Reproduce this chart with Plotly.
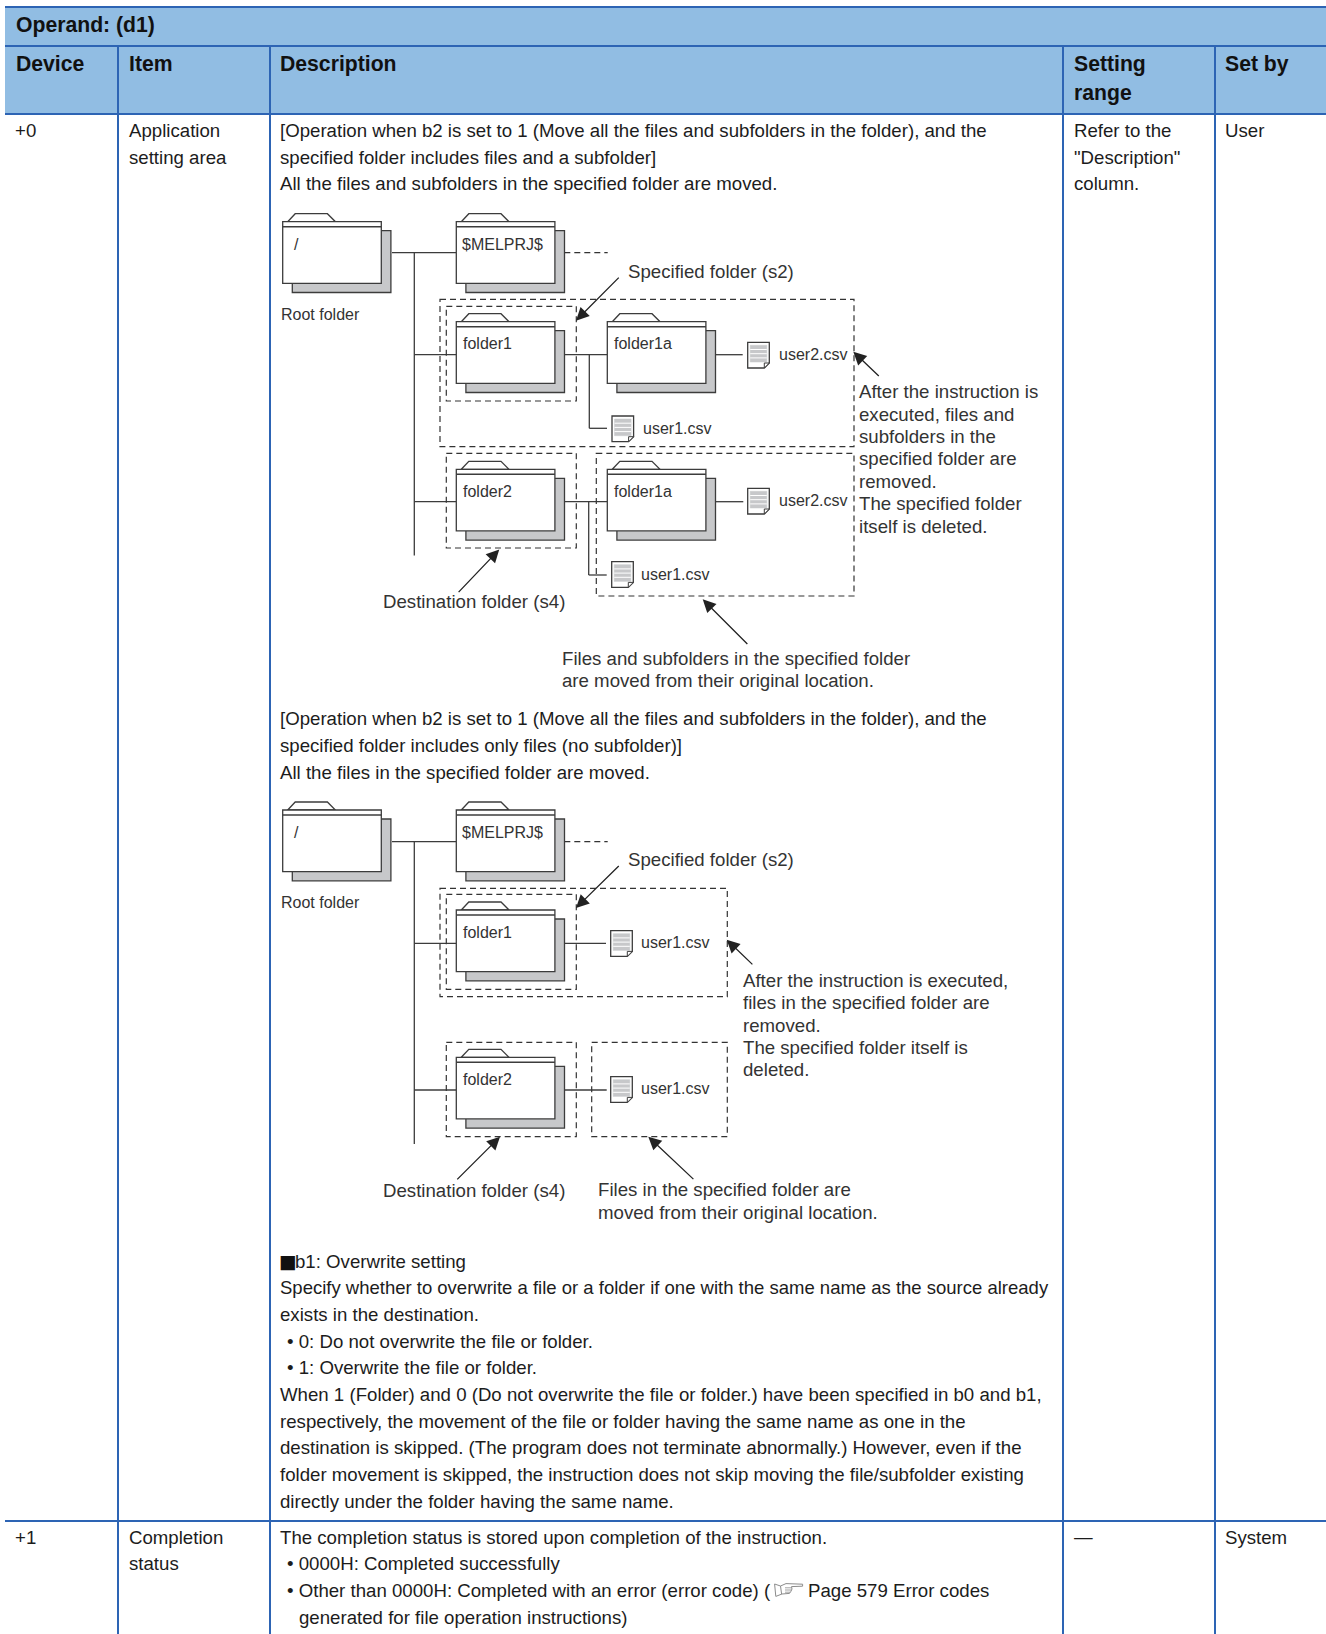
import plotly.graph_objects as go
import math

# ---------- text content ----------
TITLE = "Operand: (d1)"
HEADERS = ["Device", "Item", "Description", "Setting", "range", "Set by"]
ROW0_CELLS = ["+0", "Application", "setting area", "Refer to the", '"Description"', "column.", "User"]
ROW1_CELLS = ["+1", "Completion", "status", "—", "System"]
DESC_BLOCK_1 = [
    "[Operation when b2 is set to 1 (Move all the files and subfolders in the folder), and the",
    "specified folder includes files and a subfolder]",
    "All the files and subfolders in the specified folder are moved.",
]
DESC_BLOCK_2 = [
    "[Operation when b2 is set to 1 (Move all the files and subfolders in the folder), and the",
    "specified folder includes only files (no subfolder)]",
    "All the files in the specified folder are moved.",
]
SECTION_MARK = "■"
DESC_BLOCK_3 = [
    "b1: Overwrite setting",
    "Specify whether to overwrite a file or a folder if one with the same name as the source already",
    "exists in the destination.",
    "• 0: Do not overwrite the file or folder.",
    "• 1: Overwrite the file or folder.",
    "When 1 (Folder) and 0 (Do not overwrite the file or folder.) have been specified in b0 and b1,",
    "respectively, the movement of the file or folder having the same name as one in the",
    "destination is skipped. (The program does not terminate abnormally.) However, even if the",
    "folder movement is skipped, the instruction does not skip moving the file/subfolder existing",
    "directly under the folder having the same name.",
]
DESC_BLOCK_4 = [
    "The completion status is stored upon completion of the instruction.",
    "• 0000H: Completed successfully",
    "• Other than 0000H: Completed with an error (error code) (",
    "Page 579 Error codes",
    "generated for file operation instructions)",
]
NOTE_A = ["After the instruction is", "executed, files and", "subfolders in the",
          "specified folder are", "removed.", "The specified folder", "itself is deleted."]
NOTE_B = ["Files and subfolders in the specified folder", "are moved from their original location."]
NOTE_C = ["After the instruction is executed,", "files in the specified folder are",
          "removed.", "The specified folder itself is", "deleted."]
NOTE_D = ["Files in the specified folder are", "moved from their original location."]
SPECIFIED = "Specified folder (s2)"
DESTINATION = "Destination folder (s4)"
ROOT = "Root folder"

# ---------- styles ----------
HEAD_FILL = "#91bde3"
RULE = "#2d64b4"
INK = "#1c1c1c"
DIAG = "#333333"
GRAY = "#c7c8ca"
EDGE = "#3c3c3c"
FONT = "Liberation Sans"
BODY = 18.65
SMALL = 16
BOLD = 21.2

fig = go.Figure()
shapes, notes = [], []


def text(x, y, s, size=BODY, color=INK, bold=False, family=FONT):
    notes.append(dict(x=x, y=y, xref="x", yref="y", text=f"<b>{s}</b>" if bold else s,
                      showarrow=False, xanchor="left", yanchor="middle", align="left",
                      borderpad=0, borderwidth=0,
                      font=dict(family=family, size=size, color=color)))


def line(x0, y0, x1, y1, color=EDGE, width=1.3, dash=None):
    shapes.append(dict(type="line", x0=x0, y0=y0, x1=x1, y1=y1, xref="x", yref="y",
                       line=dict(color=color, width=width, dash=dash)))


def rect(x0, y0, x1, y1, fill=None, color=EDGE, width=1.3, dash=None):
    shapes.append(dict(type="rect", x0=x0, y0=y0, x1=x1, y1=y1, xref="x", yref="y",
                       fillcolor=fill if fill else "rgba(0,0,0,0)",
                       line=dict(color=color, width=width, dash=dash)))


def path(d, fill=None, color=EDGE, width=1.3):
    shapes.append(dict(type="path", path=d, xref="x", yref="y",
                       fillcolor=fill if fill else "rgba(0,0,0,0)",
                       line=dict(color=color, width=width)))


def dashed(x0, y0, x1, y1):
    rect(x0, y0, x1, y1, dash="6px,4px", color="#333333", width=1.2)


def folder(x, y):
    w, h = 98.6, 61.6
    rect(x + 9.6, y + 9, x + w + 9.6, y + h + 9.2, fill=GRAY)
    path(f"M{x+5},{y} L{x+12.5},{y-8} L{x+44.7},{y-8} L{x+52.7},{y} Z", fill="white")
    rect(x, y, x + w, y + h, fill="white")
    line(x, y + 5, x + w, y + 5, width=1.6)


def doc(x, y):
    w, h, c = 21.6, 25.7, 5
    path(f"M{x},{y} L{x+w},{y} L{x+w},{y+h-c} L{x+w-c},{y+h} L{x},{y+h} Z", fill="white")
    rect(x + 2.5, y + 3, x + w - 2.5, y + h - 6, fill=GRAY, color=GRAY, width=0.5)
    for k in (1, 2, 3):
        line(x + 2.5, y + 3 + k * 4.2, x + w - 2.5, y + 3 + k * 4.2, color="white", width=1)
    path(f"M{x+w},{y+h-c} L{x+w-c},{y+h-c} L{x+w-c},{y+h} Z", fill="white", width=1)


def arrow(x_from, y_from, x_tip, y_tip):
    d = math.hypot(x_from - x_tip, y_from - y_tip)
    k = (d + 2.2) / d
    notes.append(dict(x=x_tip, y=y_tip, ax=x_tip + (x_from - x_tip) * k,
                      ay=y_tip + (y_from - y_tip) * k, xref="x", yref="y",
                      axref="x", ayref="y", text="", showarrow=True, arrowhead=2,
                      arrowsize=2.0, arrowwidth=1.3, arrowcolor="#222222", standoff=0))


def hand():
    c = "#8c8c8c"
    path("M774.6,1584 L780.5,1586 L786,1583.6 L802.6,1584.2 L802.6,1586.2 L791.5,1586.6 "
         "L792,1589 L791,1591.2 L789.5,1593.4 L782,1594 L775.8,1596.4 Z", fill="white", color=c, width=1)
    line(780.5, 1586, 781.6, 1594, color=c, width=1)
    line(785, 1587.8, 791.6, 1587.8, color=c, width=0.8)
    line(785, 1590, 791.2, 1590, color=c, width=0.8)
    line(785, 1592.2, 790, 1592.2, color=c, width=0.8)


# ---------- table frame ----------
rect(5, 7, 1326, 114, fill=HEAD_FILL, color=HEAD_FILL, width=0)
for y in (7, 46, 114, 1521):
    line(5, y, 1326, y, color=RULE, width=2)
for x in (118, 270, 1063, 1215):
    line(x, 46, x, 1634, color=RULE, width=2)

# ---------- table text ----------
text(15.6, 25, TITLE, size=BOLD, bold=True, color="#111111")
for s, x, y in zip(HEADERS, (15.6, 129.3, 280, 1074.2, 1074.2, 1225),
                   (63.6, 63.6, 63.6, 63.6, 92.8, 63.6)):
    text(x, y, s, size=BOLD, bold=True, color="#111111")

for s, x, y in zip(ROW0_CELLS, (15.2, 129.3, 129.3, 1074, 1074, 1074, 1225),
                   (130.5, 130.5, 157.3, 130.5, 157.3, 183.5, 130.5)):
    text(x, y, s)
for s, x, y in zip(ROW1_CELLS, (15.2, 129.3, 129.3, 1074, 1225),
                   (1537.7, 1537.7, 1563.8, 1536, 1537.7)):
    text(x, y, s)

for s, y in zip(DESC_BLOCK_1, (130.5, 157.3, 183.5)):
    text(280, y, s)
for s, y in zip(DESC_BLOCK_2, (718.3, 745.4, 772.5)):
    text(280, y, s)
text(279.3, 1261.4, SECTION_MARK, family="DejaVu Sans", color="#111111")
for s, y, x, sz in zip(DESC_BLOCK_3,
                       (1261.4, 1287.6, 1314.7, 1341.8, 1367.2, 1394.2, 1421.2, 1447.6, 1474.2, 1501),
                       (295, 280, 280, 286.7, 286.7, 280, 280, 280, 280, 280),
                       (BODY, 18.5, BODY, BODY, BODY, BODY, BODY, BODY, BODY, BODY)):
    text(x, y, s, size=sz)
text(280, 1537.7, DESC_BLOCK_4[0])
text(286.7, 1563.8, DESC_BLOCK_4[1])
text(286.7, 1590.9, DESC_BLOCK_4[2])
hand()
text(807.5, 1590.9, DESC_BLOCK_4[3])
text(299.2, 1617.2, DESC_BLOCK_4[4])

# ---------- first diagram ----------
line(392, 252.7, 456.3, 252.7)
line(414.3, 252.7, 414.3, 555.6)
line(564.3, 252.7, 607.7, 252.7, dash="6px,4px", color="#333333", width=1.2)
line(414.3, 354.7, 456.3, 354.7)
line(564, 354.7, 607.3, 354.7)
line(589.3, 354.7, 589.3, 428.3)
line(589.3, 428.3, 607, 428.3)
line(715.3, 354.7, 742.7, 354.7)
line(414.3, 501.7, 456.3, 501.7)
line(564, 501.7, 607.3, 501.7)
line(588.7, 501.7, 588.7, 575)
line(588.7, 575, 606.7, 575)
line(715.3, 501.7, 743.3, 501.7)

for fx, fy in ((282.7, 221.7), (456.3, 221.7), (456.3, 321.7), (607.3, 321.7),
               (456.3, 469.3), (607.3, 469.3)):
    folder(fx, fy)
for dx, dy in ((612, 416), (747.7, 342.3), (747.7, 488.3), (611.7, 561.7)):
    doc(dx, dy)
dashed(440, 299.3, 854, 446.7)
dashed(446.3, 306.3, 576.3, 401)
dashed(446.3, 453.3, 576.3, 548)
dashed(596.3, 453.3, 854, 596)

arrow(618.7, 277.7, 576, 320.7)
arrow(878.7, 376, 853.3, 351.7)
arrow(747.3, 644, 702.7, 599.3)
arrow(458.7, 592, 499.3, 549.4)

for s, x, y in (("/", 294, 244), ("$MELPRJ$", 462.3, 244), ("folder1", 463.3, 343.2),
                ("folder1a", 614, 343.2), ("folder2", 463.3, 491.7), ("folder1a", 614, 491.7),
                (ROOT, 280.7, 314.3), ("user2.csv", 778.5, 354.7), ("user1.csv", 642.7, 428.7),
                ("user2.csv", 778.5, 500.7), ("user1.csv", 640.9, 574.2)):
    text(x, y, s, size=SMALL, color=DIAG)
text(627.7, 271.2, SPECIFIED, color=DIAG)
text(382.6, 601.5, DESTINATION, color=DIAG)
for s, y in zip(NOTE_A, (391.7, 414.3, 436.7, 458.6, 481.7, 503.6, 526.4)):
    text(859.3, y, s, color=DIAG)
for s, y in zip(NOTE_B, (658.7, 680.7)):
    text(562.3, y, s, color=DIAG)

# ---------- second diagram ----------
line(392, 841.7, 456.3, 841.7)
line(414.3, 841.7, 414.3, 1144)
line(564.3, 841.7, 607.7, 841.7, dash="6px,4px", color="#333333", width=1.2)
line(414.3, 943.3, 456.3, 943.3)
line(564, 943.3, 606, 943.3)
line(414.3, 1090, 456.3, 1090)
line(564, 1090, 606.7, 1090)

for fx, fy in ((282.7, 810), (456.3, 810), (456.3, 910), (456.3, 1057.3)):
    folder(fx, fy)
for dx, dy in ((610.7, 930.7), (610.7, 1076.7)):
    doc(dx, dy)
dashed(440, 888.3, 727.3, 996.7)
dashed(446.3, 894.3, 576.3, 989.3)
dashed(446.3, 1042.3, 576.3, 1136.7)
dashed(591.7, 1042.3, 727.3, 1136.7)

arrow(618.7, 866, 576, 908)
arrow(752.3, 964.3, 726.7, 939.7)
arrow(457.3, 1179.3, 500, 1136.7)
arrow(693.3, 1179, 648.3, 1136.7)

for s, x, y in (("/", 294, 832.3), ("$MELPRJ$", 462.3, 832.3), ("folder1", 463.3, 932.7),
                ("folder2", 463.3, 1079.3), (ROOT, 280.7, 902.3),
                ("user1.csv", 640.9, 942.7), ("user1.csv", 640.9, 1088.7)):
    text(x, y, s, size=SMALL, color=DIAG)
text(627.7, 859.3, SPECIFIED, color=DIAG)
text(383, 1190.3, DESTINATION, color=DIAG)
for s, y in zip(NOTE_C, (980, 1002, 1025, 1047.7, 1069.8)):
    text(743.3, y, s, color=DIAG)
for s, y in zip(NOTE_D, (1189.3, 1212.2)):
    text(597.8, y, s, color=DIAG)

fig.update_layout(
    width=1326, height=1634, autosize=False,
    margin=dict(l=0, r=0, t=0, b=0),
    paper_bgcolor="white", plot_bgcolor="white",
    showlegend=False, shapes=shapes, annotations=notes,
    xaxis=dict(range=[0, 1326], visible=False, fixedrange=True),
    yaxis=dict(range=[1634, 0], visible=False, fixedrange=True),
)
fig.write_html("out.html", config=dict(displayModeBar=False),
               post_script="document.body.style.margin='0';document.body.style.overflow='hidden';")
